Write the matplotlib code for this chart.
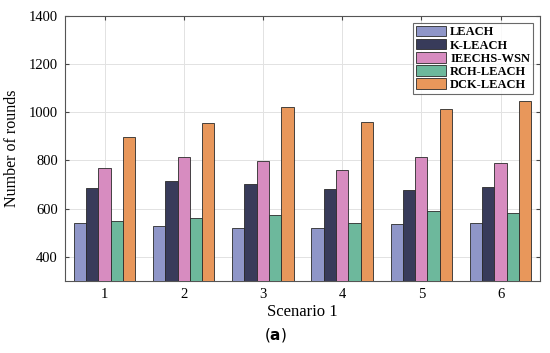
import numpy as np
import matplotlib.pyplot as plt

scenarios = ['1', '2', '3', '4', '5', '6']
leach = [540, 528, 518, 519, 535, 540]
k_leach = [684, 714, 701, 680, 679, 692]
ieechs = [770, 815, 797, 761, 814, 790]
rch_leach = [549, 560, 574, 542, 589, 584]
dck_leach = [898, 957, 1024, 961, 1014, 1045]

names = ['LEACH', 'K-LEACH', 'IEECHS-WSN', 'RCH-LEACH', 'DCK-LEACH']
colors = ['#8f96c8', '#383b5a', '#d78cc0', '#6db89c', '#e8975b']
series = [leach, k_leach, ieechs, rch_leach, dck_leach]

plt.rcParams['font.family'] = ['Liberation Serif', 'DejaVu Serif']
plt.rcParams['mathtext.fontset'] = 'dejavusans'

fig = plt.figure(figsize=(5.5, 3.53), dpi=100)
ax = fig.add_axes([0.118, 0.204, 0.864, 0.751])

x = np.arange(1, len(scenarios) + 1)
w = 0.155
for i, (vals, name, c) in enumerate(zip(series, names, colors)):
    ax.bar(x + (i - 2) * w, vals, w, color=c, edgecolor='#2a2a2a',
           linewidth=0.6, label=name, zorder=3)

ax.set_xlim(0.5, 6.5)
ax.set_ylim(300, 1400)
ax.set_xticks(x)
ax.set_xticklabels(scenarios)
ax.set_yticks([400, 600, 800, 1000, 1200, 1400])
ax.grid(True, color='#e2e2e2', linewidth=0.7, zorder=0)
ax.tick_params(direction='in', top=True, right=True, labelsize=10.5,
               length=3, color='#444444', pad=5)
for s in ax.spines.values():
    s.set_color('#555555')
    s.set_linewidth(0.8)

ax.set_ylabel('Number of rounds', fontsize=11.5, labelpad=6)
ax.set_xlabel('Scenario 1', fontsize=12, labelpad=2)

leg = ax.legend(loc='upper right', prop={'weight': 'bold', 'size': 9},
                frameon=True, fancybox=False, handlelength=2.4, handleheight=0.9,
                borderpad=0.25, labelspacing=0.05, handletextpad=0.3,
                borderaxespad=0.55)
leg.get_frame().set_edgecolor('#444444')
leg.get_frame().set_linewidth(0.8)

fig.text(0.5, 0.05, r'($\mathbf{a}$)', ha='center', va='center',
         fontsize=11, family='DejaVu Sans')

fig.savefig('out.png', dpi=100)
